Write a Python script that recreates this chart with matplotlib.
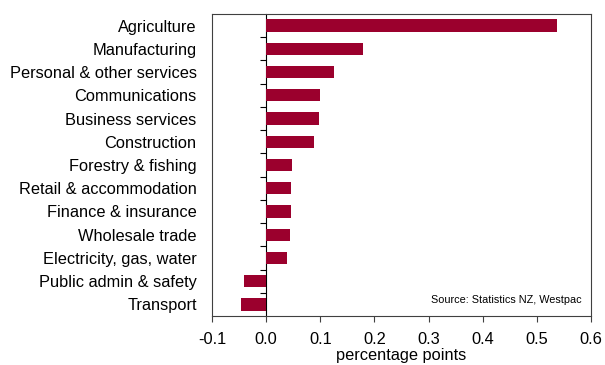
import matplotlib
matplotlib.use("Agg")
import matplotlib.pyplot as plt
from matplotlib.ticker import FormatStrFormatter

# sector contributions, top to bottom
sectors = ["Agriculture", "Manufacturing", "Personal & other services", "Communications",
           "Business services", "Construction", "Forestry & fishing", "Retail & accommodation",
           "Finance & insurance", "Wholesale trade", "Electricity, gas, water",
           "Public admin & safety", "Transport"]
values = [0.538, 0.179, 0.125, 0.099, 0.097, 0.089, 0.048, 0.046, 0.046, 0.044, 0.039,
          -0.041, -0.046]
x_ticks = [-0.1, 0.0, 0.1, 0.2, 0.3, 0.4, 0.5, 0.6]

plt.rcParams['font.family'] = ['Liberation Sans', 'DejaVu Sans']
plt.rcParams['axes.unicode_minus'] = False

bar_col = '#9B002D'
frame_col = '#404040'

fig = plt.figure(figsize=(6.05, 3.65), dpi=100)
ax = fig.add_axes([0.3504, 0.1342, 0.6265, 0.8274])

pos = list(range(len(sectors)))
ax.barh(pos, values, height=0.53, color=bar_col, edgecolor='none')

ax.set_xlim(-0.1, 0.6)
ax.set_ylim(len(sectors) - 0.5, -0.5)
ax.set_xticks(x_ticks)
ax.xaxis.set_major_formatter(FormatStrFormatter('%.1f'))
ax.tick_params(axis='x', direction='out', length=4, width=0.8, color=frame_col,
               labelsize=11.8, pad=7.5)

ax.set_yticks(pos)
ax.set_yticklabels(sectors, fontsize=11.8)
ax.tick_params(axis='y', length=0, pad=11)

for s in ax.spines.values():
    s.set_color(frame_col)
    s.set_linewidth(0.8)

# zero line with category separator ticks
zero = ax.secondary_yaxis(0.1 / 0.7)
zero.set_yticks([p + 0.5 for p in pos[:-1]])
zero.set_yticklabels([])
zero.tick_params(direction='out', length=4, width=0.8, color='black')
zero.spines['left'].set_color('black')
zero.spines['left'].set_linewidth(0.8)

ax.set_xlabel("percentage points", fontsize=11.8, labelpad=1)
ax.text(0.975, 0.035, "Source: Statistics NZ, Westpac", transform=ax.transAxes,
        ha='right', va='bottom', fontsize=7.8)

fig.savefig("out.png", dpi=100)
